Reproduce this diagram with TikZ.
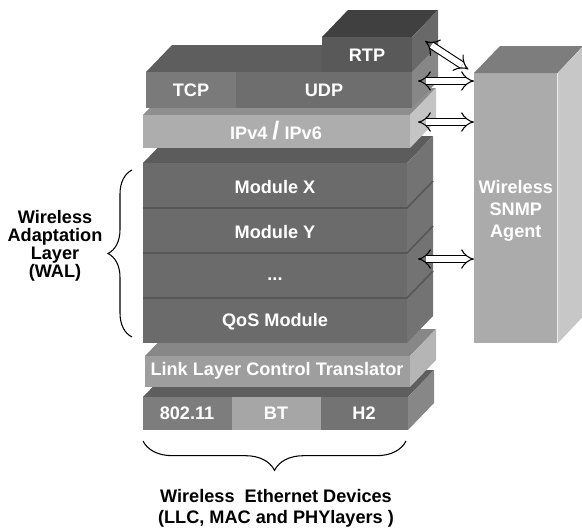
\documentclass[tikz,border=0pt]{standalone}
\usepackage{fontspec}
\setmainfont{Liberation Sans}
\usetikzlibrary{arrows.meta,decorations.pathreplacing,positioning,calc}

\colorlet{rtpF}{black!65}\colorlet{rtpT}{black!75}\colorlet{rtpS}{black!59}
\colorlet{tcpF}{black!52}\colorlet{udpF}{black!57}\colorlet{tlT}{black!63}\colorlet{tlS}{black!47}
\colorlet{ipF}{black!32}\colorlet{ipT}{black!44}\colorlet{ipS}{black!23}
\colorlet{modF}{black!58}\colorlet{modT}{black!64}\colorlet{modS}{black!55}
\colorlet{llcF}{black!38}\colorlet{llcT}{black!47}\colorlet{llcS}{black!29}
\colorlet{wifiF}{black!51}\colorlet{btF}{black!35}\colorlet{htwoF}{black!55}
\colorlet{phyT}{black!63}\colorlet{phyS}{black!47}
\colorlet{snmpF}{black!33}\colorlet{snmpT}{black!51}\colorlet{snmpS}{black!22}

% slab: x0, ytop, x1, ybot, front, top, side
\newcommand{\drawslab}[7]{%
  \fill[#6] (#1,#2) -- ++(26,-27) -- (#3+26,#2-27) -- (#3,#2) -- cycle;
  \fill[#7] (#3,#2) -- ++(26,-27) -- (#3+26,#4-27) -- (#3,#4) -- cycle;
  \fill[#5] (#1,#2) rectangle (#3,#4);
}

\begin{document}
\begin{tikzpicture}[x=0.75pt, y=-0.75pt,
  lbl/.style={text=white, font=\bfseries\fontsize{13.6}{14}\selectfont},
  note/.style={align=center, font=\bfseries\fontsize{13.6}{13.5}\selectfont},
  link/.style={draw=black, line width=0.8pt, double=white, double distance=4.4pt,
    {Implies}-{Implies}},
  curly/.style={decorate, line width=0.8pt}]
  \useasboundingbox (0,0) rectangle (582,529);

  % device layer
  \drawslab{143}{397}{408}{430}{wifiF}{phyT}{phyS}
  \fill[btF] (232,397) rectangle (321,430);
  \fill[htwoF] (321,397) rectangle (408,430);
  \node[lbl] (wifi) at (187,413) {802.11};
  \node[lbl] (bt) at (276,413) {BT};
  \node[lbl] (htwo) at (364,413) {H2};

  % translator
  \drawslab{145}{356}{410}{387}{llcF}{llcT}{llcS}
  \node[lbl] (llct) at (277,371) {Link Layer Control Translator};

  % WAL modules
  \foreach \yt/\yb in {298/343, 253/298, 208/253, 163/208}
    \drawslab{143}{\yt}{407}{\yb}{modF}{modT}{modS};
  \foreach \y in {208, 253, 298}
    \draw[black!66, line width=1.2pt] (143,\y) -- (407,\y) -- ++(26,-27);
  \node[lbl] (modx) at (275,187) {Module X};
  \node[lbl] (mody) at (275,232) {Module Y};
  \node[lbl] (dots) at (275,279) {...};
  \node[lbl] (qos) at (275,322) {QoS Module};

  % network
  \drawslab{143}{115}{410}{148}{ipF}{ipT}{ipS}
  \node[lbl] (ip) at (276,131) {IPv4 {\fontsize{19}{19}\selectfont/} IPv6};

  % transport
  \drawslab{146}{72}{412}{108}{udpF}{tlT}{tlS}
  \fill[tcpF] (146,72) rectangle (236,108);
  \node[lbl] (tcp) at (191,90) {TCP};
  \node[lbl] (udp) at (324,90) {UDP};
  \drawslab{322}{37}{412}{72}{rtpF}{rtpT}{rtpS}
  \node[lbl] (rtp) at (367,55) {RTP};

  % agent
  \node[fill=snmpF, inner sep=0pt, minimum width=62.25pt, minimum height=202.5pt,
    anchor=north west, align=center, text=white,
    font=\bfseries\fontsize{13.6}{16.5}\selectfont] (snmp) at (474,73)
    {\\[-3pt]Wireless\\SNMP\\Agent};
  \fill[snmpT] (snmp.north west) -- ++(26,-27) -- ++(83,0) -- (snmp.north east) -- cycle;
  \fill[snmpS] (snmp.north east) -- ++(26,-27) -- ++(0,270) -- (snmp.south east) -- cycle;

  % links to the agent
  \coordinate (rtpE) at (425,41);
  \draw[link, shorten >=5pt] (rtpE) -- (snmp.north west);
  \foreach \c/\y in {udpE/81, ipE/122, dotsE/259} {
    \coordinate (\c) at (418,\y);
    \draw[link] (\c) -- (\c -| snmp.west);
  }

  % braces
  \draw[curly, decoration={brace, amplitude=18pt}] (132,337) -- (132,170);
  \node[note] (wal) at (55,246) {Wireless\\Adaptation\\Layer\\(WAL)};
  \draw[curly, decoration={brace, amplitude=22pt}] (406,441) -- (143,441);
  \node[note, font=\bfseries\fontsize{13.6}{16}\selectfont] (devs) at (276,508)
    {Wireless\ \ Ethernet Devices\\(LLC, MAC and PHYlayers )};
\end{tikzpicture}
\end{document}
